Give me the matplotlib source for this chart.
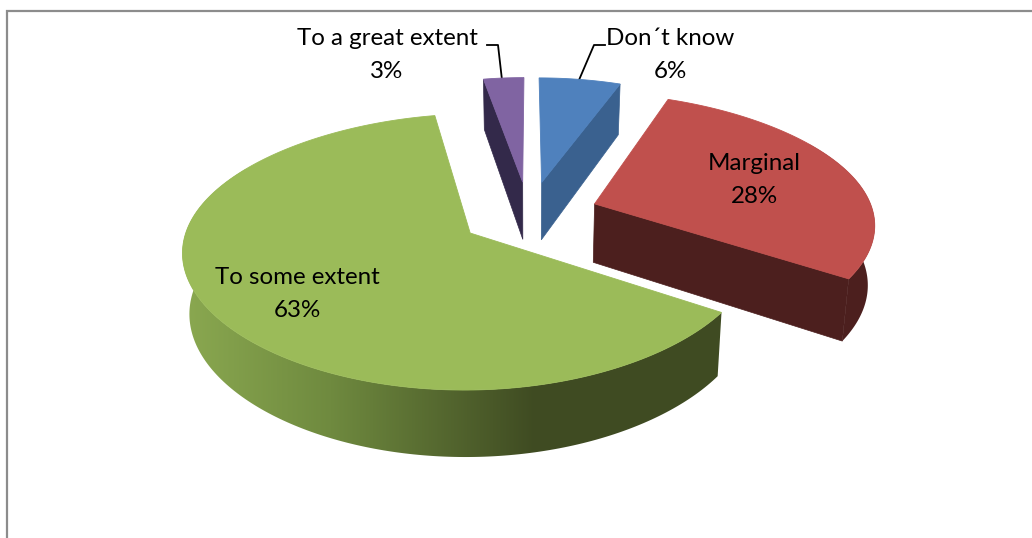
import numpy as np
import matplotlib
matplotlib.use("Agg")
import matplotlib.pyplot as plt
from matplotlib.colors import to_rgb
from matplotlib.patches import Polygon

categories = ["Don´t know", "Marginal", "To some extent", "To a great extent"]
values = [6, 28, 63, 3]
top_colors = ["#4f81bd", "#c0504d", "#9bbb59", "#8064a2"]
wall_colors = ["#3a618f", "#4c1f1e", "#3f4b22", "#33294a"]

explode = 0.25
cx, cy = 529, 214


def project(u, v):
    # squashed disc -> screen pixels, near side drawn a bit bigger
    s = 279 + 40 * v - 9 * v ** 2
    return cx + u * s, cy + 132.8 * v + 18.9 * v ** 2


def lower(x, y, v):
    # same point on the underside of the pie
    return cx + (x - cx) * 0.98, y + 59 + 7 * v


def green_gradient():
    stops = np.array([to_rgb("#8aa850"), to_rgb("#6f8a3f"), to_rgb("#3f4b22"), to_rgb("#3f4b22")])
    xs = [185, 330, 535, 725]
    px = np.arange(180, 730)
    return np.dstack([np.interp(px, xs, stops[:, k]) for k in range(3)])


fig = plt.figure(figsize=(10.32, 5.38), dpi=100)
ax = fig.add_axes([0, 0, 1, 1])

# chart frame, runs off the right and bottom of the crop
ax.plot([7, 7, 1032], [538, 10.5, 10.5], color="#8c8c8c", lw=1.6, solid_joinstyle="miter")

angles = np.cumsum([0] + values) / sum(values) * 2 * np.pi
for i in [3, 0, 1, 2]:
    a0, a1 = angles[i], angles[i + 1]
    mid = (a0 + a1) / 2
    du, dv = explode * np.sin(mid), -explode * np.cos(mid)
    t = np.linspace(a0, a1, 240)
    u = du + np.sin(t)
    v = dv - np.cos(t)
    x, y = project(u, v)
    xb, yb = lower(x, y, v)
    ax0, ay0 = project(np.array(du), np.array(dv))
    bx0, by0 = lower(ax0, ay0, dv)

    # straight cut walls that face the viewer
    for edge, side in [(0, -np.sin(a0)), (-1, np.sin(a1))]:
        if side > 0.01:
            ax.fill([ax0, x[edge], xb[edge], bx0], [ay0, y[edge], yb[edge], by0],
                    color=wall_colors[i], lw=0.5)

    # outer rim, a bit past the sides so the silhouette closes under the top face
    front = np.cos(t) < 0.5
    if front.any():
        rim = np.c_[np.r_[x[front], xb[front][::-1]], np.r_[y[front], yb[front][::-1]]]
        if i == 2:
            im = ax.imshow(green_gradient(), extent=(180, 730, 538, 0), aspect="auto", zorder=2)
            im.set_clip_path(Polygon(rim, transform=ax.transData))
        else:
            ax.fill(rim[:, 0], rim[:, 1], color=wall_colors[i], lw=0)

    ax.fill(np.r_[ax0, x], np.r_[ay0, y], color=top_colors[i], lw=0.6, zorder=2.5)

# leader lines
ax.plot([579, 594, 605], [80, 45, 45], color="black", lw=1.3)
ax.plot([502, 498, 487], [80, 45, 45], color="black", lw=1.3)

label_x = [670, 754, 297, 387]
label_y = [55, 180, 294, 55]
for name, val, lx, ly in zip(categories, values, label_x, label_y):
    ax.text(lx, ly, f"{name}\n{val}%", ha="center", va="center", family="Lato",
            fontsize=17.4, linespacing=1.65, color="black", zorder=4)

ax.set_xlim(0, 1032)
ax.set_ylim(538, 0)
ax.axis("off")

fig.savefig("out.png", dpi=100)
